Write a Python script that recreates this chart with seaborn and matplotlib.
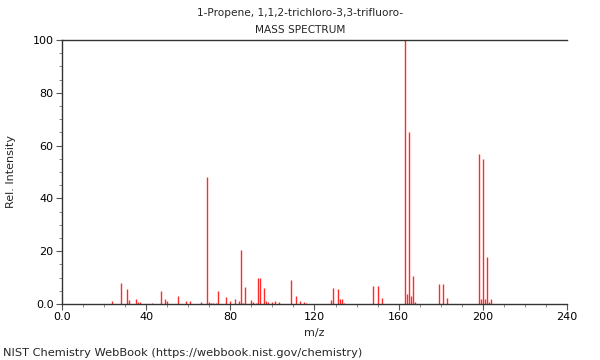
import matplotlib
matplotlib.use("Agg")
import matplotlib.pyplot as plt
from matplotlib.ticker import MultipleLocator, FuncFormatter
import seaborn as sns
import pandas as pd

# === Spectrum data (m/z, relative intensity) ===
mz = [24, 28, 31, 32, 35, 36, 37, 43, 47, 49, 50, 55, 59, 61, 66,
      69, 70, 71, 72, 73, 74, 78, 80, 82, 84, 85, 86, 87, 90, 91, 92,
      93, 94, 96, 97, 98, 100, 101, 103, 109, 111, 113, 115, 116,
      128, 129, 131, 132, 133, 134, 148, 150, 152,
      163, 164, 165, 166, 167, 168, 179, 181, 183,
      198, 199, 200, 201, 202, 203, 204]
intensity = [1.0, 8.0, 5.5, 1.5, 2.0, 0.8, 0.8, 0.4, 4.8, 1.8, 1.0, 3.1, 1.3, 1.2, 0.6,
             48.0, 0.6, 0.5, 0.5, 0.5, 5.0, 2.5, 1.0, 1.8, 1.2, 20.6, 0.5, 6.6, 1.5, 0.6, 0.5,
             9.8, 9.8, 6.2, 1.0, 0.8, 0.7, 1.0, 0.6, 9.2, 3.0, 1.0, 0.6, 0.5,
             1.4, 6.0, 5.7, 1.7, 2.0, 0.5, 7.0, 6.8, 2.2,
             100.0, 3.9, 65.0, 2.9, 10.6, 0.7, 7.4, 7.4, 2.3,
             57.0, 1.7, 55.1, 1.8, 17.7, 0.7, 1.9]

df = pd.DataFrame({"mz": mz, "intensity": intensity})

sns.set_style("ticks")
plt.rcParams['font.family'] = ['DejaVu Sans']

fig = plt.figure(figsize=(6, 3.6), dpi=100)
ax = fig.add_axes([0.1033, 0.1556, 0.8417, 0.7333])

ax.vlines(df["mz"], 0, df["intensity"], color="#ff2a2a", linewidth=1.0)

ax.set_xlim(0, 240)
ax.set_ylim(0, 100)
ax.xaxis.set_major_locator(MultipleLocator(40))
ax.xaxis.set_minor_locator(MultipleLocator(10))
ax.yaxis.set_major_locator(MultipleLocator(20))
ax.yaxis.set_minor_locator(MultipleLocator(5))
fmt = FuncFormatter(lambda v, p: "0.0" if v == 0 else f"{v:.0f}")
ax.xaxis.set_major_formatter(fmt)
ax.yaxis.set_major_formatter(fmt)

ax.tick_params(axis="both", which="major", labelsize=8, length=4, width=0.8,
               color="#555555", labelcolor="black", pad=2)
ax.tick_params(axis="both", which="minor", length=2, width=0.6, color="#777777")

sns.despine(ax=ax, top=False, right=True)
for s in ["left", "bottom", "top"]:
    ax.spines[s].set_color("#333333")
    ax.spines[s].set_linewidth(1.0)

ax.set_xlabel("m/z", fontsize=8, labelpad=4)
ax.set_ylabel("Rel. Intensity", fontsize=8, labelpad=12)

fig.text(0.5, 0.964, "1-Propene, 1,1,2-trichloro-3,3-trifluoro-", ha="center", va="center", fontsize=7.6)
fig.text(0.5, 0.917, "MASS SPECTRUM", ha="center", va="center", fontsize=7.6)
fig.text(0.005, 0.019, "NIST Chemistry WebBook (https://webbook.nist.gov/chemistry)",
         ha="left", va="center", fontsize=8.2)

fig.savefig("out.png", dpi=100)
